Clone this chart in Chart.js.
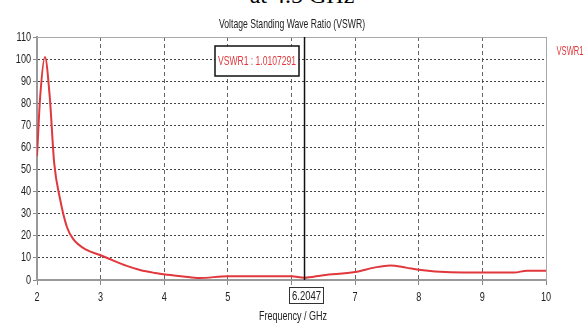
<!DOCTYPE html>
<html>
<head>
<meta charset="utf-8">
<script src="https://cdn.jsdelivr.net/npm/chart.js@4/dist/chart.umd.min.js"></script>
<style>
  body { margin:0; background:#fff; }
  #wrap { position:relative; width:588px; height:325px; overflow:hidden; }
  #caption { position:absolute; left:202px; width:200px; top:-18px; text-align:center;
    font-family:"Liberation Serif","Times New Roman",serif; font-size:24px; color:#000; }
  canvas { position:absolute; left:0; top:0; }
</style>
</head>
<body>
<div id="wrap">
  <div id="caption">at 4.5 GHz</div>
  <canvas id="vswrChart" width="588" height="325"></canvas>
</div>
<script>
// data
const freqGHz = [2.0, 2.05, 2.125, 2.2, 2.27, 2.36, 2.47, 2.57, 2.78, 3.0, 3.2, 3.4, 3.62, 3.85, 4.05, 4.3, 4.55, 5.0, 5.5, 6.0, 6.2, 6.5, 7.0, 7.3, 7.55, 7.8, 8.0, 8.5, 9.0, 9.5, 9.7, 10.0];
const vswr1   = [56, 83, 101, 83, 53, 37, 24, 18.5, 13.6, 11.2, 8.8, 6.5, 4.5, 3.2, 2.4, 1.6, 0.9, 1.7, 1.7, 1.7, 1.0, 2.2, 3.6, 5.6, 6.6, 5.6, 4.6, 3.5, 3.4, 3.4, 4.2, 4.2];
const xTicks = [2, 3, 4, 5, 6, 7, 8, 9, 10];
const yTicks = [0, 10, 20, 30, 40, 50, 60, 70, 80, 90, 100, 110];
const markerFreq = 6.2047;
const markerLabel = "VSWR1 : 1.0107291";
const chartTitle = "Voltage Standing Wave Ratio (VSWR)";
const xTitle = "Frequency / GHz";
const seriesName = "VSWR1";

const sans = '"Liberation Sans", Arial, sans-serif';
const red = '#e0383c';

// squeeze text horizontally (the original uses a narrow font)
function narrowText(ctx, text, x, y, k) {
  ctx.save();
  ctx.translate(x, y);
  ctx.scale(k, 1);
  ctx.fillText(text, 0, 0);
  ctx.restore();
}
function fitText(ctx, text, cx, cy, width) {
  narrowText(ctx, text, cx, cy, Math.min(1, width / ctx.measureText(text).width));
}

// draws frame, tick labels, title, marker line, marker boxes, legend and x-axis title
const overlay = {
  id: 'overlay',
  afterDraw(chart) {
    const ctx = chart.ctx;
    const area = chart.chartArea;
    const xs = chart.scales.x;
    const ys = chart.scales.y;
    ctx.save();
    ctx.strokeStyle = '#aaa';
    ctx.lineWidth = 1;
    ctx.beginPath();
    ctx.moveTo(area.left, area.top + 0.5);
    ctx.lineTo(area.right + 0.5, area.top + 0.5);
    ctx.lineTo(area.right + 0.5, area.bottom);
    ctx.stroke();

    // tick labels from the scales
    ctx.font = '13px ' + sans;
    ctx.fillStyle = '#222';
    ctx.textBaseline = 'middle';
    ctx.textAlign = 'right';
    ys.ticks.forEach(t => narrowText(ctx, String(t.value), 31, ys.getPixelForValue(t.value), 0.7));
    ctx.textAlign = 'center';
    xs.ticks.forEach(t => narrowText(ctx, String(t.value), xs.getPixelForValue(t.value), 297, 0.7));

    ctx.fillStyle = '#222';
    fitText(ctx, chartTitle, 292, 24, 146);
    fitText(ctx, xTitle, 293, 316, 68);

    // marker line
    const mx = xs.getPixelForValue(markerFreq);
    ctx.strokeStyle = '#111';
    ctx.lineWidth = 1.5;
    ctx.beginPath();
    ctx.moveTo(mx, area.top);
    ctx.lineTo(mx, area.bottom);
    ctx.stroke();

    // marker readout box
    ctx.fillStyle = '#fff';
    ctx.fillRect(215, 46, 84, 30);
    ctx.strokeRect(215, 46, 84, 30);
    ctx.fillStyle = red;
    fitText(ctx, markerLabel, 257, 61, 78);

    // marker value below axis
    ctx.fillStyle = '#fff';
    ctx.fillRect(289, 287, 34, 16);
    ctx.lineWidth = 1;
    ctx.strokeStyle = '#333';
    ctx.strokeRect(289.5, 287.5, 34, 16);
    ctx.fillStyle = '#222';
    fitText(ctx, markerFreq.toFixed(4), 306.5, 296, 29);

    // legend
    ctx.fillStyle = red;
    fitText(ctx, seriesName, 570, 51, 27);
    ctx.restore();
  }
};

new Chart(document.getElementById('vswrChart'), {
  type: 'line',
  data: {
    datasets: [{
      label: seriesName,
      data: freqGHz.map((f, i) => ({ x: f, y: vswr1[i] })),
      borderColor: red,
      borderWidth: 2,
      pointRadius: 0,
      cubicInterpolationMode: 'monotone',
      fill: false
    }]
  },
  options: {
    responsive: false,
    animation: false,
    layout: { padding: { top: 37, right: 42, left: 0, bottom: 0 } },
    plugins: { legend: { display: false }, title: { display: false }, tooltip: { enabled: false } },
    scales: {
      x: {
        type: 'linear', min: 2, max: 10,
        afterBuildTicks: s => { s.ticks = xTicks.map(v => ({ value: v })); },
        afterFit: s => { s.height = 45; },
        grid: { color: '#666', lineWidth: 1, tickLength: 5, tickColor: '#888' },
        border: { color: '#999', width: 2, dash: [4, 3] },
        ticks: { display: false }
      },
      y: {
        min: 0, max: 110,
        afterBuildTicks: s => { s.ticks = yTicks.map(v => ({ value: v })); },
        afterFit: s => { s.width = 37; },
        grid: { color: '#444', lineWidth: 1, tickLength: 4, tickColor: '#888' },
        border: { color: '#999', width: 2, dash: [2, 2] },
        ticks: { display: false }
      }
    }
  },
  plugins: [overlay]
});
</script>
</body>
</html>
